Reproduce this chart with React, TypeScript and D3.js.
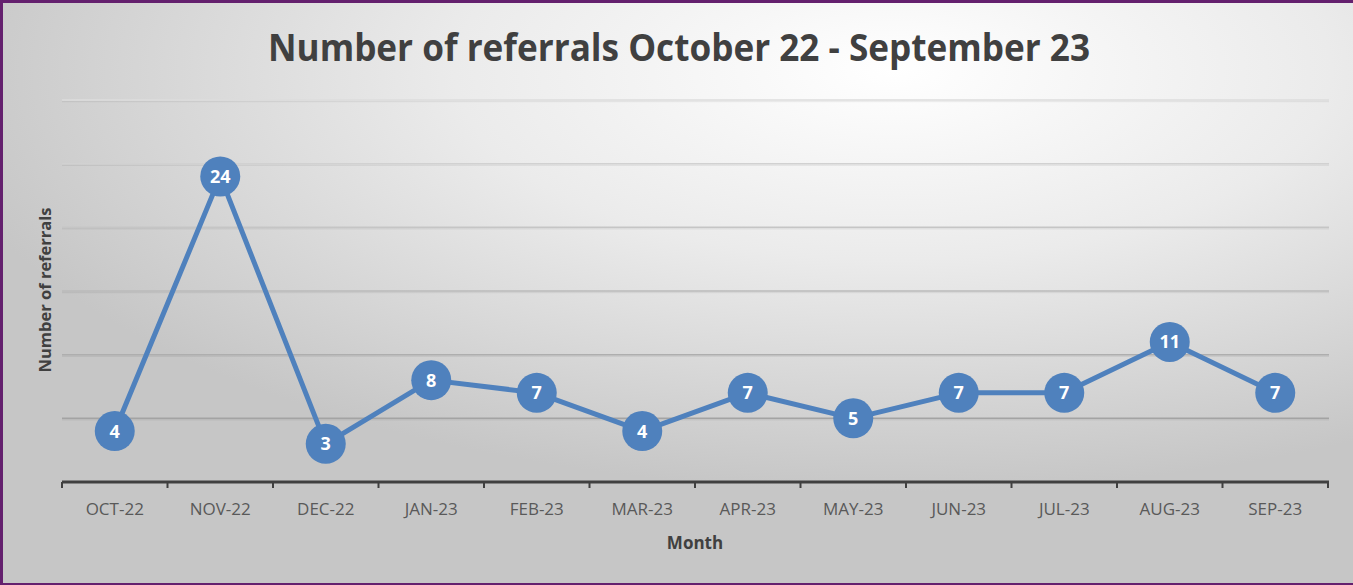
import React from "react";
import * as d3 from "d3";

const months = ["OCT-22","NOV-22","DEC-22","JAN-23","FEB-23","MAR-23","APR-23","MAY-23","JUN-23","JUL-23","AUG-23","SEP-23"];
const referrals = [4,24,3,8,7,4,7,5,7,7,11,7];
const gridValues = [5,10,15,20,25,30];

const W = 1353, H = 585;
const left = 62, right = 1328, top = 100, bottom = 482;

export default function App() {
  const x = d3.scaleBand<string>().domain(months).range([left, right]).padding(0);
  const y = d3.scaleLinear().domain([0, 30]).range([bottom, top]);
  const cx = (m: string) => (x(m) as number) + x.bandwidth() / 2;
  const line = d3.line<number>().x((_, i) => cx(months[i])).y(d => y(d));
  const gridColor = d3.scaleLinear<string>().domain([30, 5]).range(["#dcdcdc", "#a3a3a3"]);
  const font = "'Open Sans', 'DejaVu Sans', sans-serif";
  return (
    <svg width={W} height={H} style={{ position: "absolute", left: 0, top: 0 }} fontFamily={font}>
      <defs>
        <radialGradient id="bg" cx="0.66" cy="0.12" r="0.72" fx="0.66" fy="0.12">
          <stop offset="0" stopColor="#ffffff" />
          <stop offset="0.45" stopColor="#ebebeb" />
          <stop offset="1" stopColor="#c6c6c6" />
        </radialGradient>
      </defs>
      <rect x={0} y={0} width={W} height={H} fill="url(#bg)" />
      <rect x={0} y={0} width={W} height={3} fill="#64206e" />
      <rect x={0} y={0} width={3} height={H} fill="#64206e" />
      <rect x={0} y={H - 2} width={W} height={2} fill="#64206e" />

      <text x={679} y={61} textAnchor="middle" fontSize={38} fontWeight="bold" fill="#404040"
        textLength={822} lengthAdjust="spacingAndGlyphs">Number of referrals October 22 - September 23</text>

      {gridValues.map(v => (
        <g key={v}>
          <line x1={left} x2={right + 1} y1={y(v) + 1.5} y2={y(v) + 1.5} stroke="#000" strokeOpacity={0.06} strokeWidth={1.5} />
          <line x1={left} x2={right + 1} y1={y(v)} y2={y(v)} stroke={gridColor(v)} strokeWidth={1.5} />
        </g>
      ))}

      <line x1={left} x2={right + 1} y1={bottom} y2={bottom} stroke="#404040" strokeWidth={3} />
      {months.map(m => (
        <line key={"t" + m} x1={x(m) as number} x2={x(m) as number} y1={bottom} y2={bottom + 6} stroke="#404040" strokeWidth={2} />
      ))}
      <line x1={right} x2={right} y1={bottom} y2={bottom + 6} stroke="#404040" strokeWidth={2} />
      {months.map(m => (
        <text key={"l" + m} x={cx(m)} y={515} textAnchor="middle" fontSize={17} fill="#595959">{m}</text>
      ))}
      <text x={695} y={549} textAnchor="middle" fontSize={17} fontWeight="bold" fill="#404040">Month</text>
      <text transform="translate(51,290) rotate(-90)" textAnchor="middle" fontSize={16.5} fontWeight="bold" fill="#404040">Number of referrals</text>

      <path d={line(referrals) || ""} fill="none" stroke="#4f81bd" strokeWidth={5} strokeLinejoin="round" />
      {referrals.map((v, i) => (
        <g key={"p" + i}>
          <circle cx={cx(months[i])} cy={y(v)} r={20} fill="#4f81bd" />
          <text x={cx(months[i])} y={y(v)} dy="0.36em" textAnchor="middle" fontSize={18} fontWeight="bold" fill="#ffffff">{v}</text>
        </g>
      ))}
    </svg>
  );
}
